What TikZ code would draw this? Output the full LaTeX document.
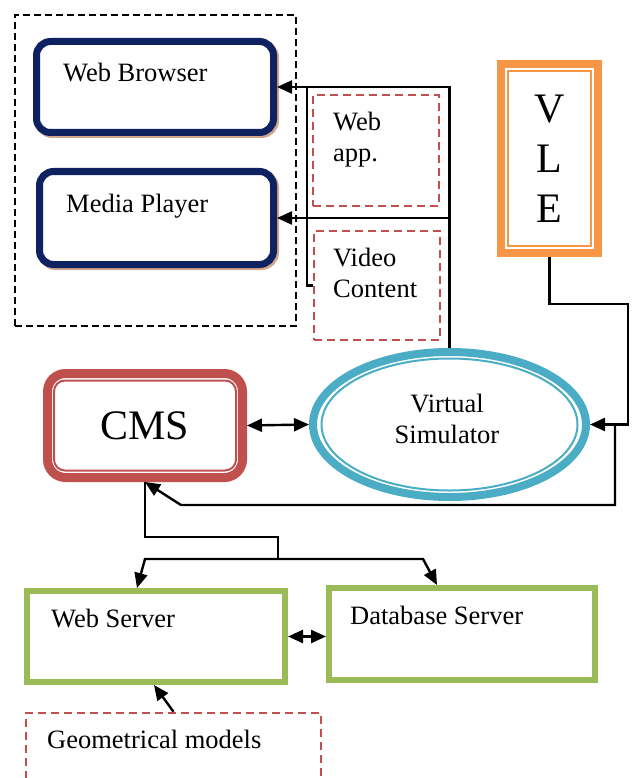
\documentclass[tikz,border=0pt]{standalone}
\usepackage{fontspec}
\setmainfont{Liberation Serif}
\usetikzlibrary{arrows.meta,shapes.geometric,shadows}

\definecolor{navy}{HTML}{0E2262}
\definecolor{tanshade}{HTML}{D2A68A}
\definecolor{dashred}{HTML}{C0504D}
\definecolor{cmsred}{HTML}{C0504D}
\definecolor{vleorange}{HTML}{F79646}
\definecolor{simblue}{HTML}{4BACC6}
\definecolor{srvgreen}{HTML}{9BBB59}

\newcommand\boxfont{\fontsize{26.5}{31}\selectfont}
\newcommand\capsfont{\fontsize{42}{50}\selectfont}

\begin{document}
\begin{tikzpicture}[x=1pt,y=-1pt,
    wire/.style = {line width=2.4pt},
    conn/.style = {wire, -{Triangle[length=15pt,width=13pt]}},
    both/.style = {wire, {Triangle[length=15pt,width=13pt]}-{Triangle[length=15pt,width=13pt]}},
    client/.style = {draw=navy, line width=7pt, rounded corners=14pt, fill=white,
        drop shadow={shadow xshift=2pt, shadow yshift=-2pt, fill=tanshade,
            draw=tanshade, line width=7pt, opacity=1}},
    content/.style = {draw=dashred, line width=2.6pt, dash pattern=on 8pt off 5pt},
    server/.style = {draw=srvgreen, line width=6pt},
    txt/.style = {anchor=base west, inner sep=0pt, align=left, font=\boxfont}]
    \useasboundingbox (0,0) rectangle (634,778);
    \clip (0,0) rectangle (634,778);

    % client side
    \node[draw, line width=2.6pt, dash pattern=on 7pt off 4pt, minimum width=281pt,
        minimum height=311pt] (group) at (155.5,170.5) {};
    \node[client, minimum width=237pt, minimum height=91pt] (browser) at (155,87) {};
    \node[client, minimum width=234pt, minimum height=93pt] (player) at (156.5,218) {};
    \node[txt] (browsertxt) at (63,82) {Web Browser};
    \node[txt] (playertxt) at (66,212) {Media Player};

    % content (base anchor sits on the last line)
    \node[content, minimum width=126pt, minimum height=111pt] (webapp) at (376,150.5) {};
    \node[txt] (webapptxt) at (333,162) {Web\\app.};
    \node[content, minimum width=126pt, minimum height=109pt] (video) at (377,285.5) {};
    \node[txt] (videotxt) at (333,297) {Video\\Content};

    % VLE
    \node[draw=vleorange, line width=8pt, minimum width=97pt, minimum height=189pt,
        align=center, font=\capsfont] (vle) at (549.5,158.5) {V\\L\\E};
    \node[draw=vleorange, line width=2pt, minimum width=83pt,
        minimum height=175pt] (vlein) at (vle.center) {};

    % CMS and simulator
    \node[draw=cmsred, line width=9pt, rounded corners=18pt, minimum width=195pt,
        minimum height=104pt, font=\capsfont] (cms) at (145,425.5) {CMS};
    \node[draw=cmsred, line width=2pt, rounded corners=11pt, minimum width=182pt,
        minimum height=90pt] (cmsin) at (cms.center) {};
    \node[draw=simblue, line width=8pt, ellipse, inner sep=0pt, minimum width=273pt,
        minimum height=145pt] (sim) at (449.5,424.5) {};
    \node[draw=simblue, line width=2pt, ellipse, inner sep=0pt, minimum width=256pt,
        minimum height=132pt] (simin) at (sim.center) {};
    \node[align=center, inner sep=0pt, font=\boxfont] (simtxt) at (447,419) {Virtual\\Simulator};

    % servers
    \node[server, minimum width=258pt, minimum height=91pt] (web) at (156,636.5) {};
    \node[server, minimum width=266pt, minimum height=92pt] (db) at (462,634) {};
    \node[txt] (webtxt) at (51,627) {Web Server};
    \node[txt] (dbtxt) at (350,624) {Database Server};
    \node[content, minimum width=295pt, minimum height=80pt] (geo) at (173.5,753) {};
    \node[txt] (geotxt) at (47,748) {Geometrical models};

    % connectors
    \coordinate (tapB) at (sim.north |- browser.east);
    \coordinate (tapP) at (sim.north |- player.east);
    \draw[conn] (sim.north) -- (tapB) -- (browser.east);
    \draw[conn] (tapP) -- (player.east);
    \coordinate (brk) at (307,86);
    \draw[wire] (brk) |- (video.west);

    \draw[both] (cms.east) -- (sim.west);

    \coordinate (vr) at (628,304);
    \draw[conn] (vle.south) |- (vr) |- (sim.east);
    \coordinate (fb) at (615,424.5);
    \coordinate (fbl) at (181,505);
    \draw[conn] (fb) |- (fbl) -- (cms.south);

    \coordinate (kink) at (278,537);
    \coordinate (split) at (278,559);
    \coordinate (splitl) at (145,559);
    \coordinate (splitr) at (423,559);
    \draw[wire] (cms.south) |- (kink) -- (split);
    \draw[conn] (split) -- (splitl) -- ([xshift=-19pt]web.north);
    \draw[conn] (split) -- (splitr) -- ([xshift=-25pt]db.north);

    \draw[both] (web.east) -- (web.east -| db.west);
    \draw[conn] (geo.north) -- ([xshift=-2pt]web.south);
\end{tikzpicture}
\end{document}
